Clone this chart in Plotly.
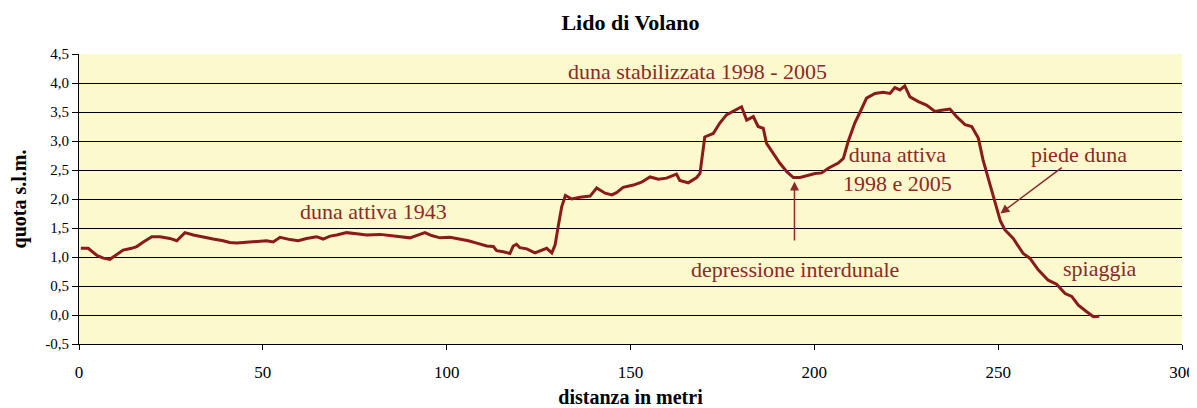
import plotly.graph_objects as go

distanza = [0.5, 2.5, 4.8, 6.6, 8.4, 10.3, 12.0, 14.3, 15.7, 17.5,
            19.8, 22.0, 24.7, 26.6, 28.8, 31.1, 33.8, 36.5, 39.2, 41.0,
            42.9, 45.6, 48.3, 51.0, 52.8, 54.7, 57.4, 59.6, 61.9, 64.6,
            66.4, 68.3, 70.1, 72.8, 75.5, 78.2, 81.9, 84.6, 87.3, 90.0,
            92.7, 94.1, 95.9, 98.2, 100.9, 103.6, 105.9, 108.2, 110.9, 112.7,
            113.6, 115.4, 117.2, 118.1, 119.0, 119.9, 121.8, 124.0, 125.8, 127.2,
            128.6, 129.5, 130.4, 131.3, 132.3, 134.0, 136.3, 139.0, 140.8, 143.1,
            144.9, 146.2, 148.0, 150.8, 153.0, 155.3, 157.6, 159.8, 162.5, 163.4,
            165.7, 168.0, 168.9, 170.2, 172.5, 174.3, 176.1, 177.9, 180.2, 181.6,
            183.4, 184.7, 186.1, 187.0, 188.8, 190.6, 192.5, 194.3, 196.1, 198.3,
            200.2, 202.0, 203.8, 206.5, 207.9, 209.2, 211.0, 212.9, 214.2, 216.5,
            218.7, 220.6, 221.9, 223.3, 224.6, 226.0, 228.3, 230.5, 232.8, 234.6,
            236.9, 238.7, 241.0, 242.8, 244.6, 245.9, 247.6, 249.3, 250.6, 251.8,
            254.1, 256.8, 258.6, 260.9, 263.6, 265.9, 268.2, 270.0, 271.8, 274.0,
            275.9, 277.5]

quota = [1.15, 1.15, 1.03, 0.98, 0.96, 1.05, 1.12, 1.15, 1.18, 1.26,
         1.35, 1.35, 1.32, 1.28, 1.42, 1.38, 1.34, 1.31, 1.28, 1.25,
         1.24, 1.25, 1.26, 1.28, 1.26, 1.34, 1.30, 1.28, 1.32, 1.35,
         1.31, 1.36, 1.38, 1.42, 1.40, 1.38, 1.39, 1.37, 1.36, 1.33,
         1.39, 1.42, 1.37, 1.33, 1.34, 1.31, 1.28, 1.24, 1.19, 1.18,
         1.11, 1.09, 1.06, 1.19, 1.22, 1.16, 1.14, 1.07, 1.12, 1.15,
         1.07, 1.21, 1.55, 1.87, 2.06, 2.00, 2.03, 2.05, 2.19, 2.10,
         2.07, 2.11, 2.20, 2.24, 2.29, 2.38, 2.34, 2.36, 2.43, 2.32,
         2.28, 2.37, 2.44, 3.07, 3.13, 3.31, 3.45, 3.51, 3.59, 3.36,
         3.42, 3.25, 3.22, 2.96, 2.79, 2.62, 2.47, 2.37, 2.37, 2.41,
         2.44, 2.45, 2.53, 2.62, 2.70, 2.99, 3.31, 3.56, 3.74, 3.82,
         3.84, 3.82, 3.92, 3.88, 3.95, 3.76, 3.68, 3.62, 3.51, 3.53,
         3.55, 3.42, 3.28, 3.25, 3.05, 2.67, 2.30, 1.90, 1.62, 1.47,
         1.32, 1.06, 0.98, 0.78, 0.60, 0.53, 0.37, 0.32, 0.17, 0.06,
         -0.03, -0.02]

x_ticks = [0, 50, 100, 150, 200, 250, 300]
y_ticks = [-0.5, 0.0, 0.5, 1.0, 1.5, 2.0, 2.5, 3.0, 3.5, 4.0, 4.5]
y_tick_labels = ["-0,5", "0,0", "0,5", "1,0", "1,5", "2,0", "2,5", "3,0", "3,5", "4,0", "4,5"]

LINE = "#8B1A1A"
TXT = "#8B2A2A"
FONT = "Liberation Serif"

fig = go.Figure()
fig.add_trace(go.Scatter(x=distanza, y=quota, mode="lines",
                         line=dict(color=LINE, width=3), showlegend=False))

ann_font = dict(family=FONT, size=22, color=TXT)
fig.add_annotation(x=80, y=1.78, text="duna attiva 1943", showarrow=False, font=ann_font)
fig.add_annotation(x=168.3, y=4.19, text="duna stabilizzata 1998 - 2005", showarrow=False, font=ann_font)
fig.add_annotation(x=222.7, y=2.52, text="duna attiva<br>1998 e 2005", showarrow=False, font=ann_font)
fig.add_annotation(x=194.7, y=0.78, text="depressione interdunale", showarrow=False, font=ann_font)
fig.add_annotation(x=272, y=2.76, text="piede duna", showarrow=False, font=ann_font)
fig.add_annotation(x=277.7, y=0.81, text="spiaggia", showarrow=False, font=ann_font)

# arrows
fig.add_annotation(x=194.6, y=2.3, ax=194.6, ay=1.26, xref="x", yref="y",
                   axref="x", ayref="y", text="", showarrow=True,
                   arrowhead=2, arrowsize=1.2, arrowwidth=1.5, arrowcolor=TXT)
fig.add_annotation(x=250.6, y=1.75, ax=267.7, ay=2.56, xref="x", yref="y",
                   axref="x", ayref="y", text="", showarrow=True,
                   arrowhead=2, arrowsize=1.2, arrowwidth=1.5, arrowcolor=TXT)

fig.update_layout(
    width=1189, height=400,
    margin=dict(l=71, r=15, t=46, b=64, autoexpand=False),
    paper_bgcolor="white",
    plot_bgcolor="#FCF9CC",
    title=dict(text="<b>Lido di Volano</b>", x=0.5, xref="paper", y=0.965, yref="container",
               xanchor="center", yanchor="middle",
               font=dict(family=FONT, size=22, color="black")),
    font=dict(family=FONT, size=15, color="black"),
)
fig.update_xaxes(range=[0, 300], tickvals=x_ticks, showgrid=False, zeroline=False,
                 showline=True, linecolor="black", linewidth=1, mirror=False,
                 ticks="outside", ticklen=5, tickcolor="black", automargin=False,
                 ticklabelstandoff=8,
                 tickfont=dict(family=FONT, size=17, color="black"),
                 title=dict(text="<b>distanza in metri</b>", standoff=10,
                            font=dict(family=FONT, size=20, color="black")))
fig.update_yaxes(range=[-0.5, 4.5], tickvals=y_ticks, ticktext=y_tick_labels,
                 showgrid=True, gridcolor="black", gridwidth=1, zeroline=False,
                 showline=True, linecolor="black", linewidth=1, automargin=False,
                 ticks="outside", ticklen=6, tickcolor="black",
                 tickfont=dict(family=FONT, size=15, color="black"),
                 title=dict(text="<b>quota s.l.m.</b>", standoff=16,
                            font=dict(family=FONT, size=20, color="black")))

fig.write_html("out.html")
